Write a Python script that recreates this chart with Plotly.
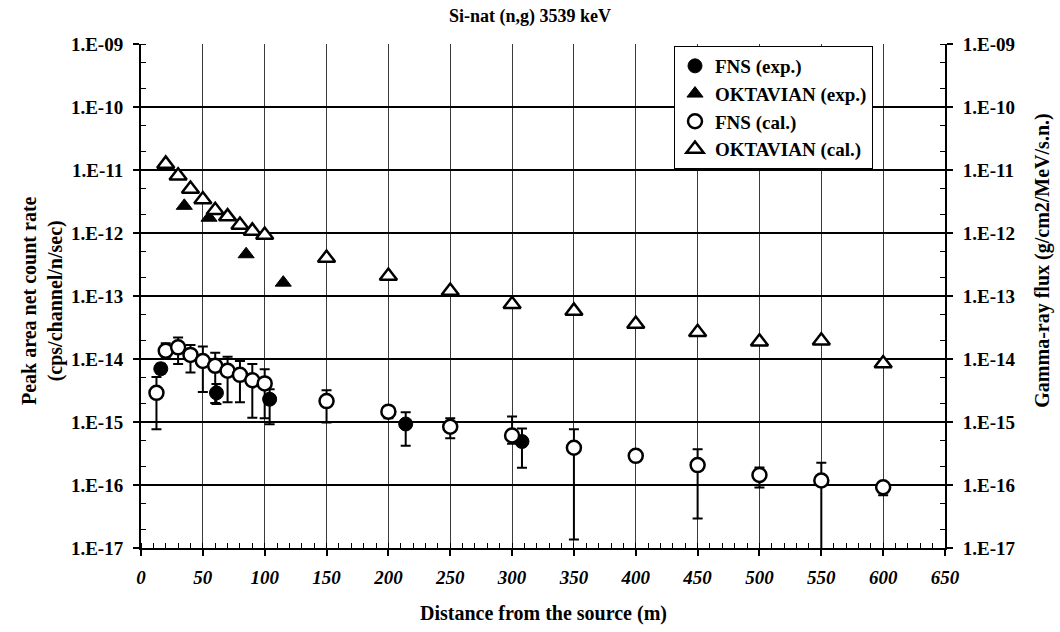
import plotly.graph_objects as go

# ---- data -------------------------------------------------------------
fns_exp_x = [16, 61, 104, 214, 308]
fns_exp_y = [7.0e-15, 2.9e-15, 2.3e-15, 9.3e-16, 4.9e-16]
fns_exp_hi = [8.4e-15, 4.0e-15, 3.3e-15, 1.43e-15, 7.9e-16]
fns_exp_lo = [5.9e-15, 1.93e-15, 9.2e-16, 4.2e-16, 1.88e-16]

okt_exp_x = [35, 55, 85, 115]
okt_exp_y = [2.7e-12, 1.75e-12, 4.6e-13, 1.63e-13]

fns_cal_x = [12.5, 20, 30, 40, 50, 60, 70, 80, 90, 100,
             150, 200, 250, 300, 350, 400, 450, 500, 550, 600]
fns_cal_y = [2.9e-15, 1.35e-14, 1.53e-14, 1.16e-14, 9.3e-15, 7.8e-15, 6.5e-15,
             5.6e-15, 4.6e-15, 4.1e-15, 2.15e-15, 1.46e-15, 8.4e-16, 6.1e-16,
             3.9e-16, 2.9e-16, 2.07e-16, 1.44e-16, 1.18e-16, 9.2e-17]
fns_cal_hi = [5.2e-15, 1.78e-14, 2.2e-14, 1.67e-14, 1.58e-14, 1.26e-14, 1.09e-14,
              9.3e-15, 8.3e-15, 6.9e-15, 3.2e-15, 1.6e-15, 1.15e-15, 1.22e-15,
              7.7e-16, 3.1e-16, 3.7e-16, 1.9e-16, 2.26e-16, 1.07e-16]
fns_cal_lo = [7.7e-16, 1.05e-14, 8.3e-15, 6.1e-15, 3.0e-15, 2.0e-15, 2.05e-15,
              2.05e-15, 1.17e-15, 1.15e-15, 9.8e-16, 1.15e-15, 5.5e-16, 4.5e-16,
              1.37e-17, 2.5e-16, 2.95e-17, 9.1e-17, 8e-18, 6.9e-17]

okt_cal_x = [20, 30, 40, 50, 60, 70, 80, 90, 100,
             150, 200, 250, 300, 350, 400, 450, 500, 550, 600]
okt_cal_y = [1.25e-11, 8.1e-12, 5.0e-12, 3.4e-12, 2.3e-12, 1.82e-12, 1.34e-12,
             1.08e-12, 9.3e-13, 4.0e-13, 2.07e-13, 1.2e-13, 7.4e-14, 5.8e-14,
             3.6e-14, 2.65e-14, 1.88e-14, 1.95e-14, 8.5e-15]

x_ticks = list(range(0, 651, 50))
y_exps = list(range(-17, -8))
y_tickvals = [10.0 ** e for e in y_exps]
y_ticktext = ["1.E-%02d" % (-e) for e in y_exps]

# ---- styling ----------------------------------------------------------
FONT = "Liberation Serif"
BLACK = "black"


def err(y, hi, lo):
    return dict(type="data", symmetric=False,
                array=[h - v for h, v in zip(hi, y)],
                arrayminus=[v - l for v, l in zip(y, lo)],
                color=BLACK, thickness=2, width=5)


fig = go.Figure()

fig.add_trace(go.Scatter(
    x=fns_exp_x, y=fns_exp_y, mode="markers", name="FNS (exp.)",
    error_y=err(fns_exp_y, fns_exp_hi, fns_exp_lo),
    marker=dict(symbol="circle", size=14, color=BLACK,
                line=dict(color=BLACK, width=1))))

fig.add_trace(go.Scatter(
    x=okt_exp_x, y=okt_exp_y, mode="markers", name="OKTAVIAN (exp.)",
    marker=dict(symbol="triangle-up", size=14, color=BLACK,
                line=dict(color=BLACK, width=1))))

fig.add_trace(go.Scatter(
    x=fns_cal_x, y=fns_cal_y, mode="markers", name="FNS (cal.)",
    error_y=err(fns_cal_y, fns_cal_hi, fns_cal_lo),
    marker=dict(symbol="circle", size=14, color="white",
                line=dict(color=BLACK, width=2.5))))

fig.add_trace(go.Scatter(
    x=okt_cal_x, y=okt_cal_y, mode="markers", name="OKTAVIAN (cal.)",
    marker=dict(symbol="triangle-up", size=15, color="white",
                line=dict(color=BLACK, width=2.5))))

# right-hand axis shares the same decades
fig.add_trace(go.Scatter(
    x=okt_cal_x, y=okt_cal_y, mode="markers", yaxis="y2",
    marker=dict(opacity=0), showlegend=False, hoverinfo="skip"))

tick_font = dict(family=FONT, size=19, color=BLACK, weight="bold")
title_font = dict(family=FONT, size=20, color=BLACK)

fig.update_layout(
    width=1060, height=632,
    margin=dict(l=141, r=115, t=44, b=84),
    paper_bgcolor="white", plot_bgcolor="white",
    font=dict(family=FONT, size=16, color=BLACK),
    title=dict(text="<b>Si-nat (n,g) 3539 keV</b>", x=0.5, xanchor="center",
               y=1 - 16 / 632, yanchor="middle",
               font=dict(family=FONT, size=18, color=BLACK)),
    showlegend=True,
    legend=dict(x=(674 - 141) / 804, y=0.996, xanchor="left", yanchor="top",
                bgcolor="white", bordercolor=BLACK, borderwidth=1,
                font=dict(family=FONT, size=19, color=BLACK, weight="bold"),
                itemwidth=30, tracegroupgap=0),
    xaxis=dict(
        range=[0, 650], tickmode="array", tickvals=x_ticks,
        tickfont=dict(family=FONT, size=19, color=BLACK, weight="bold",
                      style="italic"),
        ticks="outside", ticklen=6, tickwidth=1.5, tickcolor=BLACK,
        ticklabelstandoff=5,
        minor=dict(dtick=10, ticks="inside", ticklen=5, tickcolor=BLACK,
                   tickwidth=1, showgrid=False),
        showgrid=True, gridcolor="#3a3a3a", gridwidth=1,
        showline=True, linecolor=BLACK, linewidth=2, mirror=False,
        zeroline=False,
    ),
    yaxis=dict(
        type="log", range=[-17, -9], tickmode="array",
        tickvals=y_tickvals, ticktext=y_ticktext, tickfont=tick_font,
        ticks="outside", ticklen=6, tickwidth=1.5, tickcolor=BLACK,
        ticklabelstandoff=6,
        minor=dict(ticks="inside", ticklen=5, tickcolor=BLACK, tickwidth=1,
                   showgrid=False),
        showgrid=True, gridcolor=BLACK, gridwidth=1.6,
        showline=True, linecolor=BLACK, linewidth=2,
        zeroline=False,
    ),
    yaxis2=dict(
        type="log", range=[-17, -9], overlaying="y", side="right",
        tickmode="array", tickvals=y_tickvals, ticktext=y_ticktext,
        tickfont=tick_font,
        ticks="outside", ticklen=6, tickwidth=1.5, tickcolor=BLACK,
        ticklabelstandoff=6,
        minor=dict(ticks="inside", ticklen=5, tickcolor=BLACK, tickwidth=1,
                   showgrid=False),
        showgrid=False, showline=True, linecolor=BLACK, linewidth=2,
        zeroline=False,
    ),
    annotations=[
        dict(text="<b>Distance from the source (m)</b>", xref="paper",
             yref="paper", x=0.5, y=(548 - 613) / 504, xanchor="center",
             yanchor="middle", showarrow=False, font=title_font),
        dict(text="<b>Peak area net count rate<br>(cps/channel/n/sec)</b>",
             xref="paper", yref="paper", x=(42 - 141) / 804, y=0.49,
             xanchor="center", yanchor="middle", textangle=-90,
             showarrow=False, font=title_font),
        dict(text="<b>Gamma-ray flux (g/cm2/MeV/s.n.)</b>",
             xref="paper", yref="paper", x=(1043 - 141) / 804, y=0.57,
             xanchor="center", yanchor="middle", textangle=-90,
             showarrow=False, font=title_font),
    ],
)

fig.write_html("out.html")
